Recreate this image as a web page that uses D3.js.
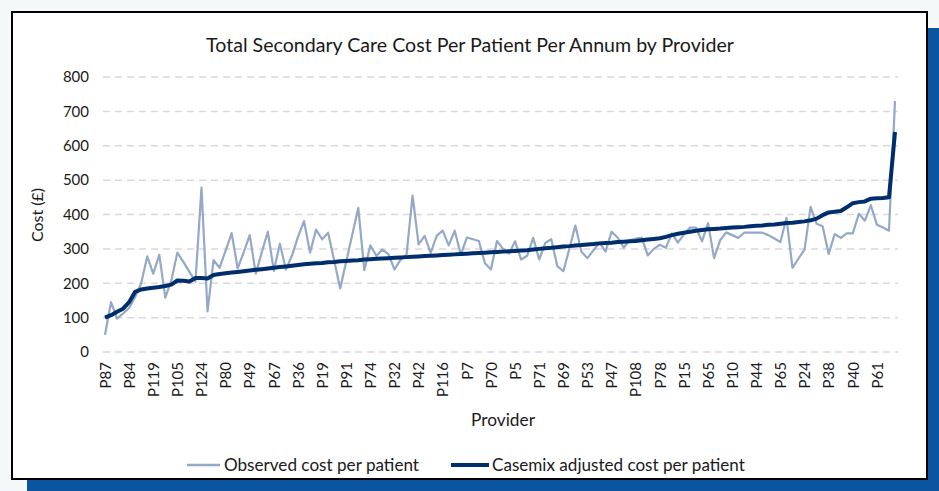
<!DOCTYPE html>
<html>
<head>
<meta charset="utf-8">
<script src="https://cdn.jsdelivr.net/npm/d3@7"></script>
<style>
  html, body { margin: 0; padding: 0; background: #f4f8f9; }
  svg { display: block; }
  text { font-family: Lato, "Open Sans", sans-serif; fill: #1a1a1a; }
</style>
</head>
<body>
<svg id="chart" width="939" height="491"></svg>
<script>
// ---- data ----
const title = "Total Secondary Care Cost Per Patient Per Annum by Provider";
const xTitle = "Provider";
const yTitle = "Cost (£)";
const seriesNames = ["Observed cost per patient", "Casemix adjusted cost per patient"];
// tick labels shown on the axis: every 4th provider (index 0, 4, 8, ...)
const tickLabels = ["P87","P84","P119","P105","P124","P80","P49","P67","P36","P19","P91",
  "P74","P32","P42","P116","P7","P70","P5","P71","P69","P53","P47","P108","P78","P15",
  "P65","P10","P44","P65","P24","P38","P40","P61"];
const labelEvery = 4;
const yTicks = [0,100,200,300,400,500,600,700,800];

const observed = [
  50,145,97,112,128,160,200,278,228,283,
  158,208,289,262,233,205,478,118,267,245,
  295,346,243,290,340,228,290,350,236,315,
  240,280,335,381,289,356,328,347,266,185,
  263,341,419,238,310,280,298,285,240,268,
  283,455,313,338,288,338,353,310,353,283,
  333,328,323,258,240,323,300,286,322,269,
  280,332,269,317,328,250,235,300,368,292,
  273,296,318,292,350,333,304,325,330,333,
  281,300,312,303,345,318,342,362,362,322,
  375,273,325,348,340,332,347,347,347,347,
  340,330,320,390,245,272,298,422,373,366,
  285,343,332,345,345,402,382,427,370,362,
  353,730
];
const casemix = [
  100,107,117,126,145,175,182,185,187,189,
  192,196,208,207,205,215,215,214,224,227,
  229,231,233,235,237,239,241,243,245,247,
  249,251,253,255,257,258,259,261,262,264,
  265,266,267,269,270,271,272,273,274,275,
  276,277,278,279,280,281,282,283,284,285,
  286,287,288,289,290,291,292,293,294,295,
  296,298,300,302,303,305,307,308,310,311,
  313,314,316,317,318,320,321,322,323,325,
  327,329,331,335,340,344,347,350,353,355,
  357,358,359,361,362,363,364,366,367,368,
  370,371,373,375,376,378,380,383,388,398,
  406,408,410,421,433,436,438,446,447,448,
  450,640
];

// ---- drawing ----
const svg = d3.select("#chart");

// blue shadow + framed white box
svg.append("rect").attr("x", 27).attr("y", 28).attr("width", 939 - 27).attr("height", 491 - 28)
  .attr("fill", "#0a54a0");
svg.append("rect").attr("x", 12).attr("y", 12).attr("width", 915).attr("height", 467)
  .attr("fill", "#ffffff").attr("stroke", "#000000").attr("stroke-width", 2);

const x = d3.scaleLinear().domain([0, observed.length - 1]).range([105, 895]);
const y = d3.scaleLinear().domain([0, 800]).range([352, 77]);
const gridLeft = 103, gridRight = 898;

// helper: fit a text element to a target width by adjusting its font size
function fitWidth(sel, target) {
  const node = sel.node();
  const fs = parseFloat(sel.style("font-size"));
  const w = node.getComputedTextLength();
  if (w > 0) sel.style("font-size", (fs * target / w).toFixed(2) + "px");
}

// title
const t = svg.append("text").attr("x", 470).attr("y", 52).attr("text-anchor", "middle")
  .style("font-size", "17px").text(title);
fitWidth(t, 528);

// gridlines
svg.append("g").selectAll("line").data(yTicks).join("line")
  .attr("x1", gridLeft).attr("x2", gridRight)
  .attr("y1", d => y(d)).attr("y2", d => y(d))
  .attr("stroke", "#d9d9d9").attr("stroke-width", 1.5).attr("stroke-dasharray", "7,5");

// y axis (labels only)
const yAxis = d3.axisLeft(y).tickValues(yTicks).tickSize(0).tickPadding(0);
const gy = svg.append("g").attr("transform", "translate(89,0)").call(yAxis);
gy.select(".domain").remove();
gy.selectAll("text").style("font-size", "15px").style("font-family", "Lato, sans-serif").attr("fill", "#1a1a1a");

// x axis (labels only, every 4th provider)
const tickIdx = tickLabels.map((_, i) => i * labelEvery);
const xAxis = d3.axisBottom(x).tickValues(tickIdx).tickSize(0)
  .tickFormat((d, i) => tickLabels[i]);
const gx = svg.append("g").attr("transform", "translate(0,362)").call(xAxis);
gx.select(".domain").remove();
gx.selectAll("text")
  .style("font-size", "15px").style("font-family", "Lato, sans-serif").attr("fill", "#1a1a1a")
  .attr("text-anchor", "end")
  .attr("transform", "rotate(-90)")
  .attr("x", 0).attr("y", 0).attr("dx", 0).attr("dy", "0.35em");

// axis titles
const xt = svg.append("text").attr("x", 503).attr("y", 426).attr("text-anchor", "middle")
  .style("font-size", "16px").text(xTitle);
fitWidth(xt, 64);
svg.append("text").attr("transform", "translate(43,215) rotate(-90)").attr("text-anchor", "middle")
  .style("font-size", "16px").text(yTitle);

// lines
const line = d3.line().x((d, i) => x(i)).y(d => y(d));
svg.append("path").datum(observed).attr("d", line).attr("fill", "none")
  .attr("stroke", "#94a8c8").attr("stroke-width", 2.2).attr("stroke-linejoin", "round");
svg.append("path").datum(casemix).attr("d", line).attr("fill", "none")
  .attr("stroke", "#002d6b").attr("stroke-width", 4).attr("stroke-linejoin", "round");

// legend
const legend = svg.append("g").attr("transform", "translate(0,465)");
const items = [
  {name: seriesNames[0], color: "#94a8c8", w: 2.5, x0: 187, x1: 220, tx: 224, tw: 195},
  {name: seriesNames[1], color: "#002d6b", w: 4, x0: 451, x1: 489, tx: 492, tw: 253}
];
items.forEach(it => {
  legend.append("line").attr("x1", it.x0).attr("x2", it.x1).attr("y1", 0).attr("y2", 0)
    .attr("stroke", it.color).attr("stroke-width", it.w);
  const lt = legend.append("text").attr("x", it.tx).attr("y", 0).attr("dy", "0.35em")
    .style("font-size", "15px").text(it.name);
  fitWidth(lt, it.tw);
});
</script>
</body>
</html>
